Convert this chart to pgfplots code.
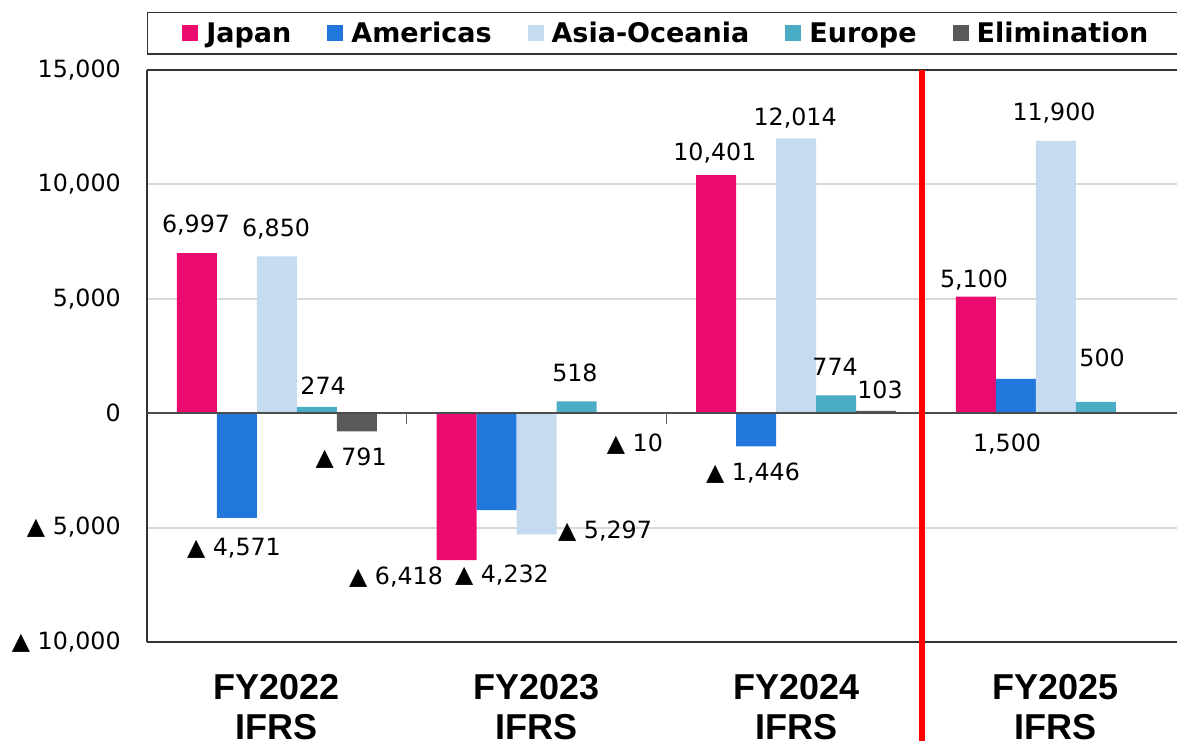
\documentclass[border=0pt]{standalone}
\usepackage{pgfplots}
\pgfplotsset{compat=1.18}
\usepackage{fontspec}
\setmainfont{DejaVu Sans}
\newfontfamily\catfont{Liberation Sans}
\definecolor{cJapan}{RGB}{235,10,110}
\definecolor{cAmer}{RGB}{34,119,221}
\definecolor{cAsia}{RGB}{197,219,240}
\definecolor{cEuro}{RGB}{75,172,198}
\definecolor{cElim}{RGB}{89,89,89}
\definecolor{cGrid}{RGB}{217,217,217}
\newcommand{\lab}{\fontsize{17.8}{20}\selectfont}
\begin{document}
\begin{tikzpicture}
\begin{axis}[
  at={(110.25pt,73.5pt)}, anchor=south west,
  scale only axis, width=779pt, height=429pt,
  xmin=-0.5, xmax=3.5, ymin=-10000, ymax=15000,
  axis y line*=left, axis x line*=box,
  axis line style={black!80, line width=1.2pt},
  scaled y ticks=false,
  ytick={-10000,-5000,0,5000,10000,15000},
  yticklabels={{▲ 10,000},{▲ 5,000},{0},{5,000},{10,000},{15,000}},
  yticklabel style={font=\lab, anchor=east, inner sep=0pt, xshift=-19.5pt},
  ytick style={draw=none},
  ymajorgrids, grid style={cGrid, line width=1.5pt},
  xtick={0,1,2,3},
  xticklabels={{FY2022\\IFRS},{FY2023\\IFRS},{FY2024\\IFRS},{FY2025\\IFRS}},
  xticklabel style={font=\catfont\bfseries\fontsize{27}{30}\selectfont, align=center, anchor=north, inner sep=0pt, yshift=-24pt},
  xtick style={draw=none},
  /pgf/number format/assume math mode=true,
  clip=false,
  legend columns=5,
  legend style={at={(0,1)}, anchor=north west, yshift=43.5pt,
    draw=black!80, line width=1pt,
    font=\bfseries\fontsize{20.25}{24}\selectfont,
    inner xsep=26pt, inner ysep=7pt,
    nodes={inner sep=0pt, anchor=base west},
    /tikz/every odd column/.append style={column sep=6pt},
    /tikz/every even column/.append style={column sep=27pt}},
  legend image code/.code={\path[#1] (0pt,1.4pt) rectangle (12pt,13.4pt);},
]
\addplot[ybar, bar width=30pt, bar shift=-60pt, fill=cJapan, draw=none]
  coordinates {(0,6997) (1,-6418) (2,10401) (3,5100)};
\addlegendentry{Japan}
\addplot[ybar, bar width=30pt, bar shift=-30pt, fill=cAmer, draw=none]
  coordinates {(0,-4571) (1,-4232) (2,-1446) (3,1500)};
\addlegendentry{Americas}
\addplot[ybar, bar width=30pt, bar shift=0pt, fill=cAsia, draw=none]
  coordinates {(0,6850) (1,-5297) (2,12014) (3,11900)};
\addlegendentry{Asia-Oceania}
\addplot[ybar, bar width=30pt, bar shift=30pt, fill=cEuro, draw=none]
  coordinates {(0,274) (1,518) (2,774) (3,500)};
\addlegendentry{Europe}
\addplot[ybar, bar width=30pt, bar shift=60pt, fill=cElim, draw=none]
  coordinates {(0,-791) (1,-10) (2,103)};
\addlegendentry{Elimination}
% zero line and category ticks
\draw[black!70, line width=1.2pt] (axis cs:-0.5,0) -- (axis cs:3.5,0);
\draw[black!60, line width=1.2pt] (axis cs:0.5,0) -- ([yshift=-8pt]axis cs:0.5,0);
\draw[black!60, line width=1.2pt] (axis cs:1.5,0) -- ([yshift=-8pt]axis cs:1.5,0);
% red separator
\draw[red, line width=4.5pt] (axis cs:2.485,15000) -- (axis cs:2.485,-16000);
% data labels
\begin{scope}[every node/.style={anchor=base, font=\lab, inner sep=0pt}]
\node at (axis cs:-0.311,7911) {6,997};
\node at (axis cs:-0.003,7736) {6,850};
\node at (axis cs:0.178,830) {274};
\node at (axis cs:0.286,-2273) {▲ 791};
\node at (axis cs:-0.165,-6206) {▲ 4,571};
\node at (axis cs:0.459,-7474) {▲ 6,418};
\node at (axis cs:0.867,-7386) {▲ 4,232};
\node at (axis cs:1.264,-5463) {▲ 5,297};
\node at (axis cs:1.148,1399) {518};
\node at (axis cs:1.379,-1661) {▲ 10};
\node at (axis cs:1.834,-2928) {▲ 1,446};
\node at (axis cs:2.150,1661) {774};
\node at (axis cs:2.323,656) {103};
\node at (axis cs:1.687,11058) {10,401};
\node at (axis cs:1.996,12587) {12,014};
\node at (axis cs:2.685,5507) {5,100};
\node at (axis cs:2.993,12806) {11,900};
\node at (axis cs:3.178,2054) {500};
\node at (axis cs:2.812,-1661) {1,500};
\end{scope}
\end{axis}
\pgfresetboundingbox
\path[use as bounding box] (0,0) rectangle (882.75pt,555pt);
\end{tikzpicture}
\end{document}
